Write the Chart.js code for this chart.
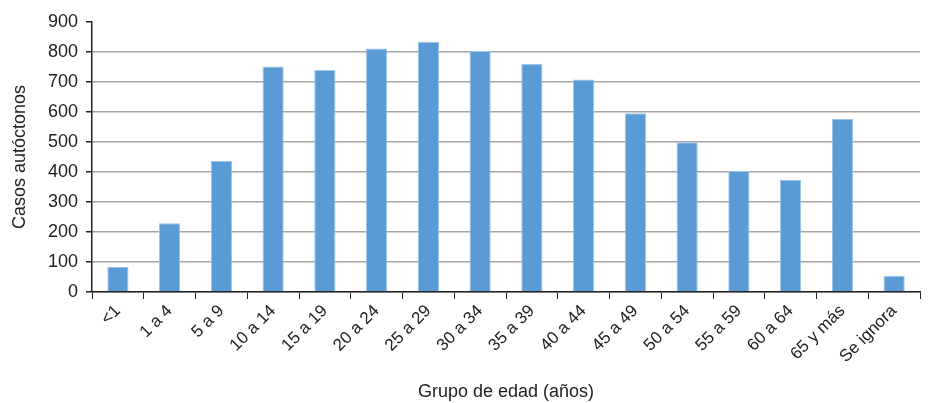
<!DOCTYPE html>
<html>
<head>
<meta charset="utf-8">
<script src="https://cdn.jsdelivr.net/npm/chart.js@4.4.0/dist/chart.umd.min.js"></script>
<style>
  html, body { margin: 0; padding: 0; background: #fff; }
  #wrap { width: 928px; height: 403px; }
</style>
</head>
<body>
<div id="wrap"><canvas id="myChart"></canvas></div>
<script>
const categories = ['<1', '1 a 4', '5 a 9', '10 a 14', '15 a 19', '20 a 24', '25 a 29', '30 a 34',
  '35 a 39', '40 a 44', '45 a 49', '50 a 54', '55 a 59', '60 a 64', '65 y más', 'Se ignora'];
const casos = [84, 229, 437, 752, 740, 812, 833, 803, 761, 708, 596, 499, 403, 373, 577, 54];
const yTicks = [0, 100, 200, 300, 400, 500, 600, 700, 800, 900];

const fontFamily = "'Liberation Sans Narrow', 'Liberation Sans', Arial, sans-serif";
const axisColor = '#222';

let ctx = document.getElementById('myChart').getContext('2d');
let myChart = new Chart(ctx, {
  type: 'bar',
  data: {
    labels: categories,
    datasets: [{
      data: casos,
      backgroundColor: '#5b9bd5',
      borderColor: '#9cc3e8',
      borderWidth: 1,
      categoryPercentage: 1.0,
      barPercentage: 0.41
    }]
  },
  options: {
    responsive: true,
    maintainAspectRatio: false,
    animation: false,
    layout: { padding: { top: 22, right: 8, left: 9, bottom: 0 } },
    plugins: { legend: { display: false }, tooltip: { enabled: false } },
    scales: {
      x: {
        grid: { drawOnChartArea: false, drawTicks: true, tickLength: 7, tickColor: axisColor, offset: true },
        border: { color: axisColor, width: 1.5 },
        ticks: { color: '#222', font: { family: fontFamily, size: 17 }, minRotation: 45, maxRotation: 45, padding: 2 },
        title: { display: true, text: 'Grupo de edad (años)', color: '#222', font: { family: fontFamily, size: 18 }, padding: { top: 4, bottom: 0 } },
        afterFit: (scale) => { scale.height = 111; }
      },
      y: {
        min: 0,
        max: 900,
        afterBuildTicks: (scale) => { scale.ticks = yTicks.map(v => ({ value: v })); },
        grid: {
          color: (c) => (c.tick && c.tick.value === 900) ? 'rgba(0,0,0,0)' : '#a6a6a6',
          lineWidth: 1.5,
          tickLength: 6,
          tickColor: axisColor
        },
        border: { color: axisColor, width: 1.5 },
        ticks: { color: '#222', font: { family: fontFamily, size: 18 }, padding: 8 },
        title: { display: true, text: 'Casos autóctonos', color: '#222', font: { family: fontFamily, size: 18 }, padding: { top: 0, bottom: 4 } },
        afterFit: (scale) => { scale.width = 83; }
      }
    }
  }
});
</script>
</body>
</html>
